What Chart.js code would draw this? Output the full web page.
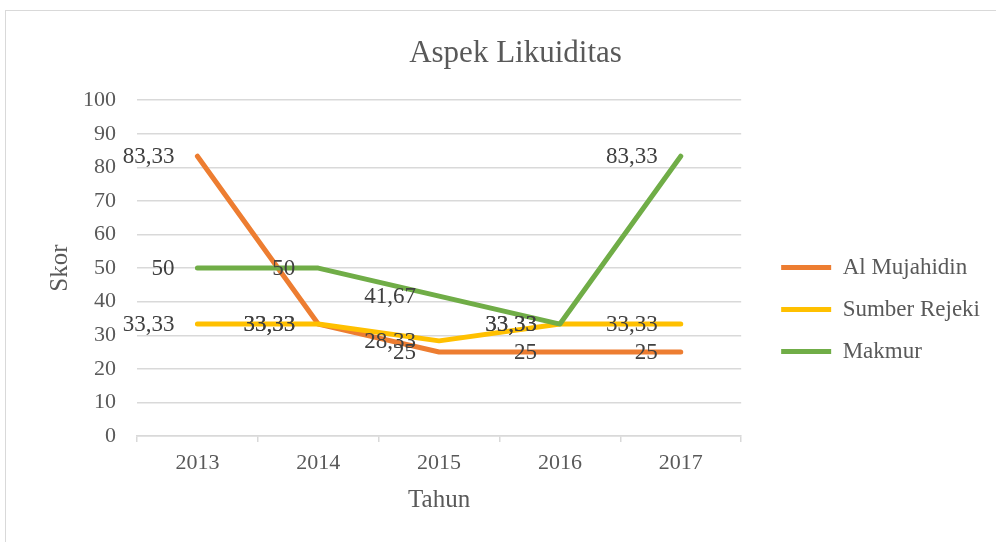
<!DOCTYPE html>
<html>
<head>
<meta charset="utf-8">
<script src="https://cdn.jsdelivr.net/npm/chart.js@4.4.1/dist/chart.umd.min.js"></script>
<style>
  html, body { margin: 0; padding: 0; background: #fff; }
  #frame { position: absolute; left: 5px; top: 10px; width: 1000px; height: 540px; border: 1px solid #d9d9d9; }
  #grafik { position: absolute; left: 0; top: 0; }
</style>
</head>
<body>
<div id="frame"></div>
<canvas id="grafik" width="996" height="542"></canvas>
<script>
const tahun = ["2013", "2014", "2015", "2016", "2017"];
const alMujahidin = [83.33, 33.33, 25, 25, 25];
const sumberRejeki = [33.33, 33.33, 28.33, 33.33, 33.33];
const makmur = [50, 50, 41.67, 33.33, 83.33];

const serif = "'Liberation Serif', 'Times New Roman', serif";
const teks = "#595959";

// label angka di kiri tiap titik, pakai koma desimal
const labelData = {
  id: "labelData",
  afterDatasetsDraw(chart) {
    const ctx = chart.ctx;
    ctx.save();
    ctx.font = "23px " + serif;
    ctx.fillStyle = "#404040";
    ctx.textAlign = "right";
    ctx.textBaseline = "middle";
    chart.data.datasets.forEach((ds, i) => {
      chart.getDatasetMeta(i).data.forEach((pt, j) => {
        ctx.fillText(String(ds.data[j]).replace(".", ","), pt.x - 23, pt.y + 1);
      });
    });
    ctx.restore();
  },
};

// legenda agak turun, sejajar dengan garis 50
const geserLegenda = {
  id: "geserLegenda",
  afterLayout(chart) {
    const lg = chart.legend;
    if (!lg) return;
    lg.top += 45;
    lg.bottom += 45;
  },
};

new Chart(document.getElementById("grafik"), {
  type: "line",
  data: {
    labels: tahun,
    datasets: [
      {
        label: "Al Mujahidin",
        data: alMujahidin,
        borderColor: "#ED7D31",
        backgroundColor: "#ED7D31",
        borderWidth: 5,
        order: 3,
      },
      {
        label: "Sumber Rejeki",
        data: sumberRejeki,
        borderColor: "#FFC000",
        backgroundColor: "#FFC000",
        borderWidth: 5,
        order: 2,
      },
      {
        label: "Makmur",
        data: makmur,
        borderColor: "#70AD47",
        backgroundColor: "#70AD47",
        borderWidth: 5,
        order: 1,
      },
    ],
  },
  options: {
    responsive: false,
    animation: false,
    layout: {
      padding: { top: 10, left: 41, right: 6, bottom: 23 },
    },
    elements: {
      line: { tension: 0, borderCapStyle: "round", borderJoinStyle: "round" },
      point: { radius: 0 },
    },
    scales: {
      x: {
        offset: true,
        grid: {
          offset: true,
          drawOnChartArea: false,
          drawTicks: true,
          tickLength: 6,
          color: "#d9d9d9",
          lineWidth: 1.5,
        },
        border: { color: "#d9d9d9", width: 1.5 },
        ticks: {
          padding: 8,
          color: teks,
          font: { family: serif, size: 22 },
        },
        title: {
          display: true,
          text: "Tahun",
          color: teks,
          font: { family: serif, size: 25 },
        },
        afterFit(scale) {
          scale.height = 83;
        },
      },
      y: {
        min: 0,
        max: 100,
        grid: {
          drawTicks: false,
          color: "#d9d9d9",
          lineWidth: 1.5,
        },
        border: { display: false },
        ticks: {
          stepSize: 10,
          padding: 21,
          color: teks,
          font: { family: serif, size: 22 },
        },
        title: {
          display: true,
          text: "Skor",
          color: teks,
          font: { family: serif, size: 25 },
        },
        afterFit(scale) {
          scale.width = 96;
        },
      },
      jarak: {
        position: "right",
        grid: { drawOnChartArea: false, drawTicks: false },
        border: { display: false },
        ticks: { display: false },
        afterFit(scale) {
          scale.width = 21;
        },
      },
    },
    plugins: {
      title: {
        display: true,
        text: "Aspek Likuiditas",
        color: teks,
        font: { family: serif, size: 31, weight: "normal" },
        padding: { top: 25, bottom: 28 },
      },
      legend: {
        position: "right",
        align: "center",
        maxWidth: 300,
        labels: {
          usePointStyle: true,
          pointStyle: "line",
          pointStyleWidth: 50,
          padding: 19,
          color: teks,
          font: { family: serif, size: 23 },
          sort: (a, b) => a.datasetIndex - b.datasetIndex,
        },
      },
      tooltip: { enabled: false },
    },
  },
  plugins: [labelData, geserLegenda],
});
</script>
</body>
</html>
